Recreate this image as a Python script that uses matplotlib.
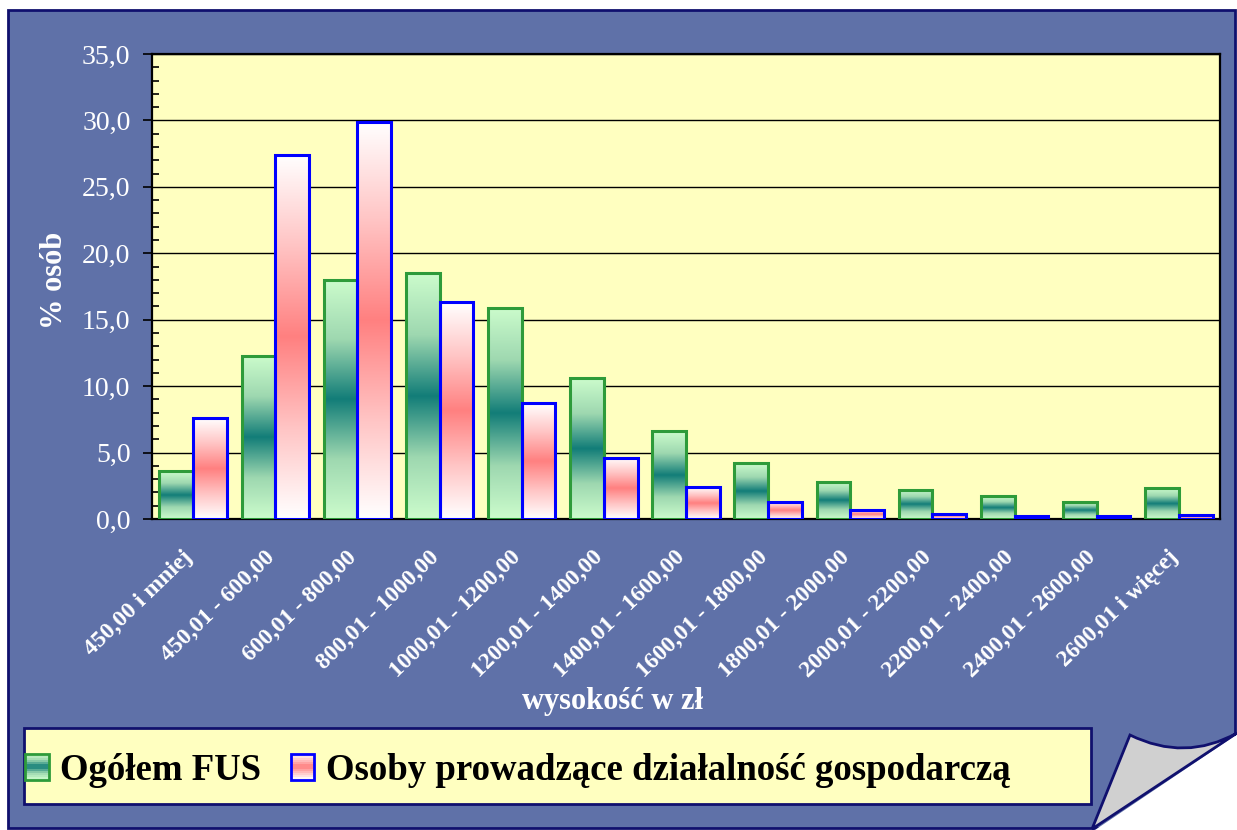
import numpy as np
import matplotlib
matplotlib.use("Agg")
import matplotlib.pyplot as plt
from matplotlib.patches import Rectangle, Polygon, PathPatch, Patch
from matplotlib.path import Path
from matplotlib.colors import LinearSegmentedColormap
from matplotlib.ticker import MultipleLocator, FuncFormatter
from matplotlib.transforms import ScaledTranslation

# ---------------- data ----------------
categories = ["450,00 i mniej", "450,01 - 600,00", "600,01 - 800,00", "800,01 - 1000,00",
              "1000,01 - 1200,00", "1200,01 - 1400,00", "1400,01 - 1600,00",
              "1600,01 - 1800,00", "1800,01 - 2000,00", "2000,01 - 2200,00",
              "2200,01 - 2400,00", "2400,01 - 2600,00", "2600,01 i więcej"]
ogolem_fus = [3.6, 12.3, 18.0, 18.5, 15.9, 10.6, 6.6, 4.2, 2.8, 2.2, 1.7, 1.3, 2.3]
osoby_dg = [7.6, 27.4, 29.9, 16.3, 8.7, 4.6, 2.4, 1.3, 0.7, 0.4, 0.2, 0.2, 0.3]
series_names = ["Ogółem FUS", "Osoby prowadzące działalność gospodarczą"]
y_label = "% osób"
x_label = "wysokość w zł"

# ---------------- style ----------------
plt.rcParams['font.family'] = ['Liberation Serif', 'DejaVu Serif']
W, H = 1237, 830
fig = plt.figure(figsize=(W / 100, H / 100), dpi=100, facecolor='white')

def fx(px):
    return px / W

def fy(py):
    return 1 - py / H

# textured-blue background panel (solid approximation)
bg = Rectangle((fx(8), fy(828)), fx(1235) - fx(8), fy(10) - fy(828),
               transform=fig.transFigure, facecolor='#5F71A8', edgecolor='#10106E',
               lw=2, zorder=-5)
fig.patches.append(bg)

ax = fig.add_axes([fx(152), fy(519), fx(1220) - fx(152), fy(54) - fy(519)])
ax.set_zorder(2)
ax.set_facecolor('#FFFFC0')

green_cmap = LinearSegmentedColormap.from_list('g', ['#CCFCCC', '#9ED8B0', '#127D78', '#9ED8B0', '#CCFCCC'])
pink_cmap = LinearSegmentedColormap.from_list('p', ['#FFFFFF', '#FFC4C4', '#FF8080', '#FFC4C4', '#FFFFFF'])

x = np.arange(len(categories))
bw = 0.41
bars_g = ax.bar(x - bw / 2, ogolem_fus, bw, facecolor='none', edgecolor='#2E9B3A', lw=2.2, zorder=4)
bars_p = ax.bar(x + bw / 2, osoby_dg, bw, facecolor='none', edgecolor='#0000FF', lw=2.2, zorder=4)

grad = np.linspace(0, 1, 256).reshape(-1, 1)
for bars, cmap in ((bars_g, green_cmap), (bars_p, pink_cmap)):
    for b in bars:
        x0, y0, w, h = b.get_x(), b.get_y(), b.get_width(), b.get_height()
        im = ax.imshow(grad, cmap=cmap, extent=[x0, x0 + w, y0, y0 + h], origin='lower',
                       aspect='auto', zorder=3, interpolation='bilinear')
        clip = Rectangle((x0, y0), w, h, transform=ax.transData)
        im.set_clip_path(clip)

ax.set_xlim(-0.5, len(categories) - 0.5)
ax.set_ylim(0, 35)
ax.set_aspect('auto')

# grid
ax.set_axisbelow(True)
ax.yaxis.set_major_locator(MultipleLocator(5))
ax.yaxis.set_minor_locator(MultipleLocator(1))
ax.grid(axis='y', which='major', color='black', lw=1.0, zorder=1)
ax.yaxis.set_major_formatter(FuncFormatter(lambda v, p: f"{v:.1f}".replace('.', ',')))
ax.tick_params(axis='y', which='major', direction='out', length=6.5, width=1.2,
               color='black', labelcolor='white', labelsize=20, pad=9)
ax.tick_params(axis='y', which='minor', direction='in', length=5, width=1.2, color='black')
ax.set_xticks(x)
ax.tick_params(axis='x', length=0, labelbottom=False)
for sp in ax.spines.values():
    sp.set_color('black')
    sp.set_linewidth(1.6)

# rotated category labels
off = ScaledTranslation(-8 / 72, -20 / 72, fig.dpi_scale_trans)
for xi, lab in zip(x, categories):
    ax.text(xi, 0, lab, transform=ax.get_xaxis_transform() + off, rotation=44,
            rotation_mode='anchor', ha='right', va='top', color='white',
            fontsize=17, fontweight='bold', clip_on=False)

fig.text(fx(613), fy(701), x_label, ha='center', va='center', color='white',
         fontsize=22, fontweight='bold')
fig.text(fx(55), fy(280), y_label, ha='center', va='center', rotation=90, color='white',
         fontsize=22, fontweight='bold')

# legend box
lbox = Rectangle((fx(24), fy(804)), fx(1091) - fx(24), fy(728) - fy(804),
                 transform=fig.transFigure, facecolor='#FFFFC0', edgecolor='#10106E',
                 lw=2, zorder=1)
fig.patches.append(lbox)


class GradHandler:
    def __init__(self, cmap, edge):
        self.cmap = cmap
        self.edge = edge

    def legend_artist(self, legend, orig_handle, fontsize, handlebox):
        x0, y0 = -handlebox.xdescent, -handlebox.ydescent
        w, h = handlebox.width, handlebox.height
        n = 12
        for k in range(n):
            r = Rectangle((x0, y0 + h * k / n), w, h / n, facecolor=self.cmap((k + 0.5) / n),
                          edgecolor='none', transform=handlebox.get_transform())
            handlebox.add_artist(r)
        border = Rectangle((x0, y0), w, h, facecolor='none', edgecolor=self.edge, lw=2,
                           transform=handlebox.get_transform())
        handlebox.add_artist(border)
        return border


hg = Patch(label=series_names[0])
hp = Patch(label=series_names[1])
leg = fig.legend(handles=[hg, hp], labels=series_names, ncol=2, frameon=False,
                 loc='center left', bbox_to_anchor=(fx(25), fy(770)),
                 prop={'family': 'Liberation Serif', 'weight': 'bold', 'size': 26.5},
                 handlelength=0.65, handleheight=0.7, handletextpad=0.3,
                 columnspacing=0.8, borderpad=0, borderaxespad=0,
                 handler_map={hg: GradHandler(green_cmap, '#2E9B3A'),
                              hp: GradHandler(pink_cmap, '#0000FF')})
leg.set_zorder(5)

# page curl in the bottom-right corner
white_tri = Polygon([(fx(1092), fy(832)), (fx(1239), fy(733)), (fx(1239), fy(832))],
                    closed=True, transform=fig.transFigure, facecolor='white',
                    edgecolor='none', zorder=6)
fig.patches.append(white_tri)
verts = [(fx(1092), fy(829)), (fx(1130), fy(735)), (fx(1185), fy(762)),
         (fx(1237), fy(733)), (fx(1092), fy(829))]
codes = [Path.MOVETO, Path.LINETO, Path.CURVE3, Path.CURVE3, Path.LINETO]
curl = PathPatch(Path(verts, codes), transform=fig.transFigure, facecolor='#D0D0D0',
                 edgecolor='#10106E', lw=2, zorder=7)
fig.patches.append(curl)

fig.savefig('out.png', dpi=100, facecolor='white')
